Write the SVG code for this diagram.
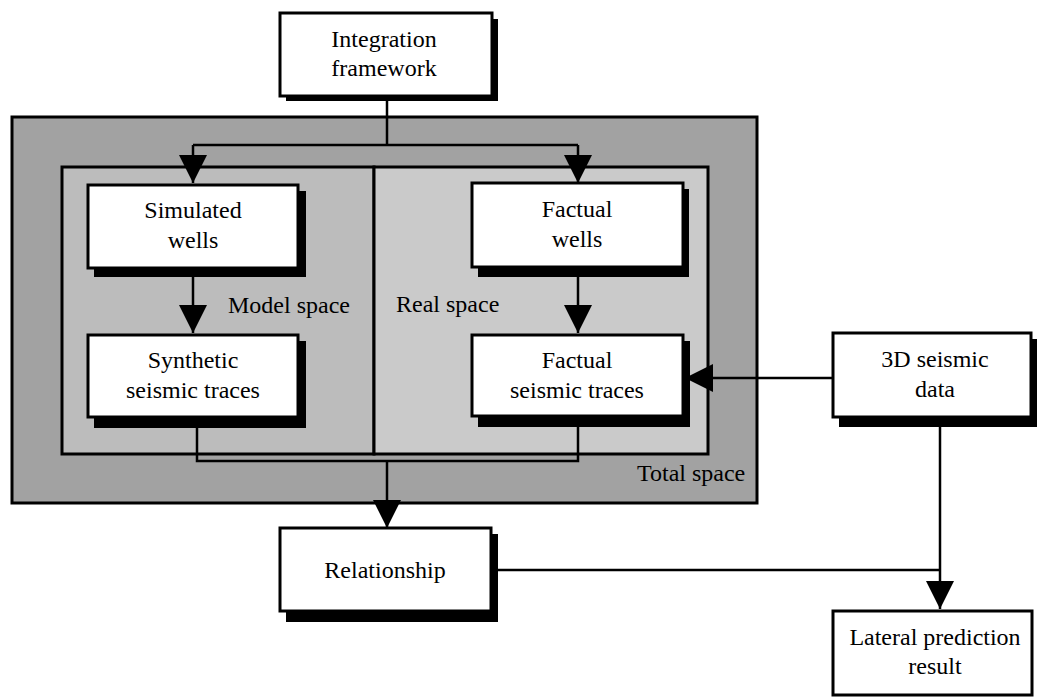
<svg xmlns="http://www.w3.org/2000/svg" width="1040" height="697" viewBox="0 0 1040 697">
<style>
.box{fill:#fff;stroke:#000;stroke-width:3}
.sh{fill:#000}
.t{font-family:"Liberation Serif","Times New Roman",serif;font-size:24px;fill:#000;text-anchor:middle}
.lbl{font-family:"Liberation Serif","Times New Roman",serif;font-size:24px;fill:#000}
.c{fill:none;stroke:#000;stroke-width:2.5}
</style>
<defs>
<marker id="ah" markerUnits="userSpaceOnUse" markerWidth="28" markerHeight="28" viewBox="0 0 26 26" refX="26" refY="13" orient="auto">
<path d="M0,0 L26,13 L0,26 Z" fill="#000"/>
</marker>
</defs>
<rect width="1040" height="697" fill="#fff"/>
<g id="total-space">
<rect x="12" y="117" width="745" height="386" fill="#a2a2a2" stroke="#000" stroke-width="3"/>
<text class="lbl" x="637" y="481">Total space</text>
</g>
<g id="model-space">
<rect x="62" y="167" width="312" height="287" fill="#bcbcbc" stroke="#000" stroke-width="3"/>
<text class="lbl" x="228" y="313">Model space</text>
</g>
<g id="real-space">
<rect x="374" y="167" width="334" height="287" fill="#cacaca" stroke="#000" stroke-width="3"/>
<text class="lbl" x="396" y="312">Real space</text>
</g>
<g id="connectors">
<path class="c" d="M387,101 V145 M193,145 H578"/>
<path class="c" d="M193,145 V183" marker-end="url(#ah)"/>
<path class="c" d="M578,145 V183" marker-end="url(#ah)"/>
<path class="c" d="M193,277 V333" marker-end="url(#ah)"/>
<path class="c" d="M578,277 V333" marker-end="url(#ah)"/>
<path class="c" d="M197,427 V461 H578 V427"/>
<path class="c" d="M387,461 V528" marker-end="url(#ah)"/>
<path class="c" d="M833,378 H685" marker-end="url(#ah)"/>
<path class="c" d="M940,427 V609" marker-end="url(#ah)"/>
<path class="c" d="M498,570 H940"/>
</g>
<g id="integration-framework">
<rect class="sh" x="286" y="19" width="212" height="82"/>
<rect class="box" x="280" y="13" width="212" height="83"/>
<text class="t" x="384" y="47">Integration</text>
<text class="t" x="384" y="76">framework</text>
</g>
<g id="simulated-wells">
<rect class="sh" x="94" y="191" width="212" height="86"/>
<rect class="box" x="88" y="185" width="210" height="83"/>
<text class="t" x="193" y="218">Simulated</text>
<text class="t" x="193" y="248">wells</text>
</g>
<g id="synthetic-seismic-traces">
<rect class="sh" x="94" y="341" width="212" height="87"/>
<rect class="box" x="88" y="335" width="210" height="82"/>
<text class="t" x="193" y="368">Synthetic</text>
<text class="t" x="193" y="398">seismic traces</text>
</g>
<g id="factual-wells">
<rect class="sh" x="478" y="189" width="211" height="88"/>
<rect class="box" x="472" y="183" width="211" height="84"/>
<text class="t" x="577" y="217">Factual</text>
<text class="t" x="577" y="247">wells</text>
</g>
<g id="factual-seismic-traces">
<rect class="sh" x="478" y="341" width="212" height="86"/>
<rect class="box" x="472" y="335" width="211" height="81"/>
<text class="t" x="577" y="368">Factual</text>
<text class="t" x="577" y="398">seismic traces</text>
</g>
<g id="seismic-3d-data">
<rect class="sh" x="839" y="339" width="198" height="88"/>
<rect class="box" x="833" y="333" width="198" height="84"/>
<text class="t" x="935" y="367">3D seismic</text>
<text class="t" x="935" y="397">data</text>
</g>
<g id="relationship">
<rect class="sh" x="286" y="534" width="212" height="88"/>
<rect class="box" x="280" y="528" width="211" height="83"/>
<text class="t" x="385" y="578">Relationship</text>
</g>
<g id="lateral-prediction-result">
<rect class="box" x="833" y="611" width="199" height="84"/>
<text class="t" x="935" y="645">Lateral prediction</text>
<text class="t" x="935" y="674">result</text>
</g>
</svg>
